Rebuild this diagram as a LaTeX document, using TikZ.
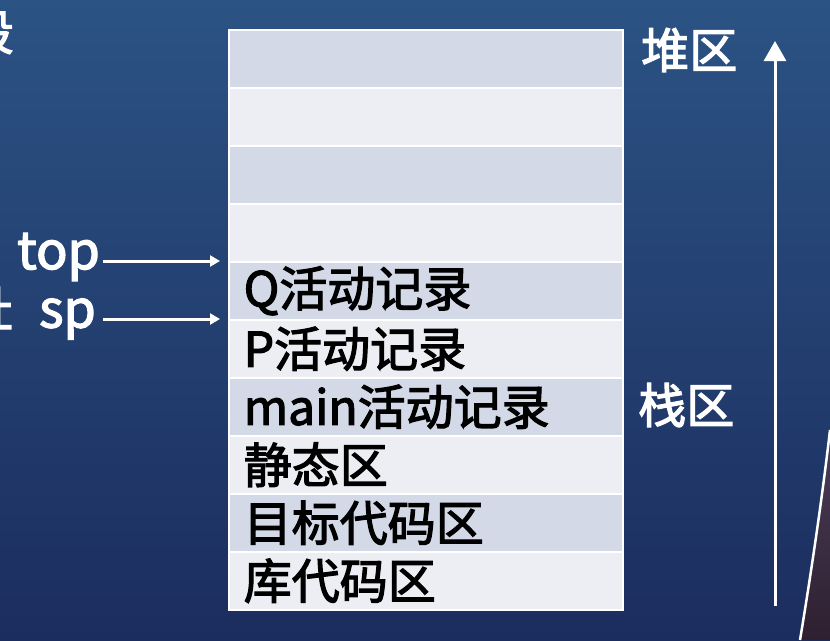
\documentclass[tikz,border=0pt]{standalone}
\usepackage{fontspec}
\newfontfamily\cjk{Noto Sans CJK SC}[FakeBold=2.5]
\usetikzlibrary{arrows.meta}
\definecolor{bgtop}{HTML}{2B5384}
\definecolor{bgmid}{HTML}{1C3466}
\definecolor{bgbot}{HTML}{1B2D5E}
\definecolor{rowdark}{HTML}{D3D9E7}
\definecolor{rowlight}{HTML}{ECEEF3}
\definecolor{decotop}{HTML}{4A3D58}
\definecolor{decobot}{HTML}{2E2030}
\begin{document}
\begin{tikzpicture}[x=1pt,y=-1pt,
  bigtxt/.style={font=\cjk\fontsize{48}{48}\selectfont},
  rowbox/.style={bigtxt, draw=white, line width=1.5pt, anchor=north west,
    inner xsep=15pt, inner ysep=0pt, text width=364pt, align=left,
    minimum height=58pt, text=black},
  dark/.style={rowbox, fill=rowdark},
  light/.style={rowbox, fill=rowlight},
  wlabel/.style={bigtxt, text=white, inner sep=0pt},
  ptrlabel/.style={wlabel, font=\cjk\fontsize{52}{52}\selectfont},
  smallarr/.style={white, line width=3pt, -{Triangle[width=11pt,length=10pt]}},
  bigarr/.style={white, line width=3pt, -{Triangle[width=22pt,length=20pt]}}
]
\useasboundingbox (0,0) rectangle (830,640);
% background
\shade[top color=bgtop, middle color=bgmid, bottom color=bgbot] (0,0) rectangle (830,640);
% decoration bottom right
\shade[top color=decotop, bottom color=decobot]
  (830,430) .. controls (822,500) and (810,580) .. (800,640) -- (830,640) -- cycle;
\draw[white, line width=2.5pt] (830,430) .. controls (822,500) and (810,580) .. (800,640);

% cut-off texts on left edge
\node[wlabel, anchor=east] (cutA) at (14,32) {段};
\node[wlabel, anchor=east] (cutB) at (13,308) {址};

% table rows
\node[dark]  (r1) at (228,29)  {\strut};
\node[light] (r2) at (228,87)  {\strut};
\node[dark]  (r3) at (228,145) {\strut};
\node[light] (r4) at (228,203) {\strut};
\node[dark]  (q)  at (228,261) {Q活动记录};
\node[light] (p)  at (228,319) {P活动记录};
\node[dark]  (m)  at (228,377) {main活动记录};
\node[light] (s)  at (228,435) {静态区};
\node[dark]  (t)  at (228,493) {目标代码区};
\node[light] (l)  at (228,551) {库代码区};

% right labels
\node[wlabel, anchor=west] (heap)  at (641,50)  {堆区};
\node[wlabel, anchor=west] (stack) at (638,405) {栈区};

% left pointers
\node[ptrlabel, anchor=east] (toplbl) at (100,257) {top};
\node[ptrlabel, anchor=east] (splbl)  at (96,319)  {sp};
\coordinate (topend) at ([xshift=-8pt]q.north west);
\coordinate (spend)  at ([xshift=-8pt]p.north west);
\draw[smallarr, shorten <=3pt] (toplbl.east |- topend) -- (topend);
\draw[smallarr, shorten <=7pt] (splbl.east |- spend) -- (spend);

% growth arrow
\coordinate (ab) at (775,606);
\coordinate (at) at (775,41);
\draw[bigarr] (ab) -- (at);
\end{tikzpicture}
\end{document}
